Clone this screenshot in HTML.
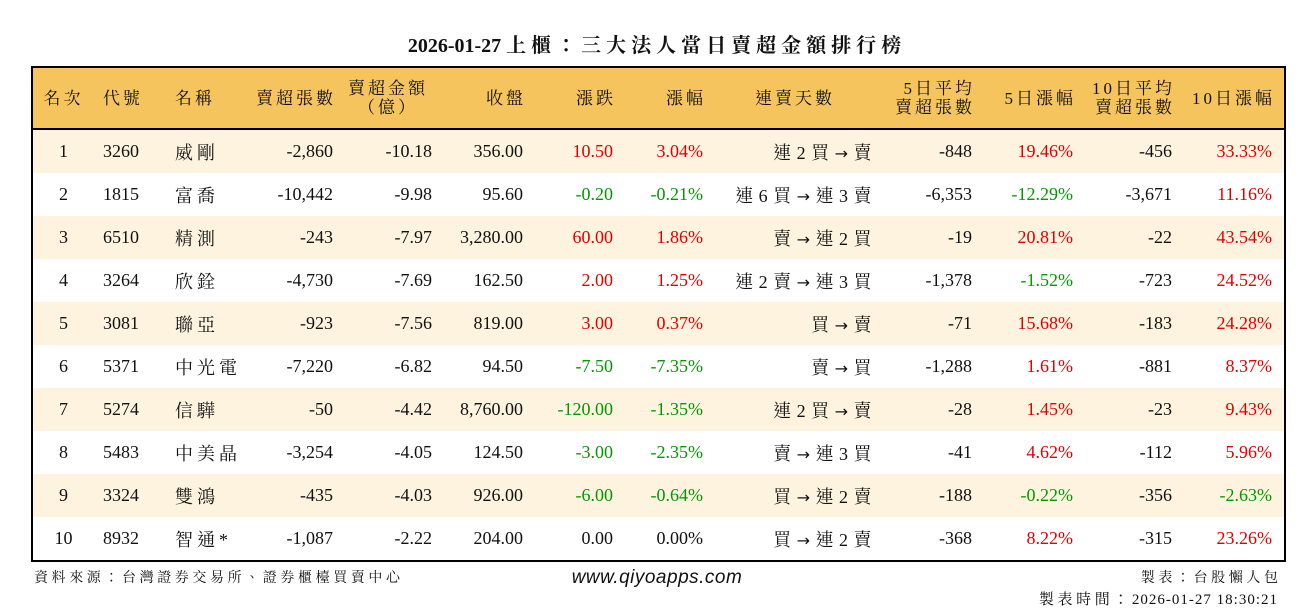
<!DOCTYPE html>
<html><head><meta charset="utf-8"><style>
body{margin:0;width:1314px;height:612px;background:#fff;position:relative;font-family:"Liberation Serif","Noto Serif CJK TC","Noto Serif CJK SC",serif;color:#111;overflow:hidden}
.t{position:absolute;top:29px;left:0;width:1314px;text-align:center;font-size:20px;font-weight:bold}
.t .k{letter-spacing:5px}
table{position:absolute;left:31px;top:66px;border-collapse:collapse;table-layout:fixed;width:1253px;border:2px solid #000;font-size:18px}
td{height:43px;padding:0;white-space:nowrap;text-align:right;padding-right:8px}
thead td{height:60px;background:#f6c45c;border-bottom:2px solid #000;line-height:19px;font-size:17px;letter-spacing:3px;padding-right:5px}
tbody tr:nth-child(odd) td{background:#fdf3de}
td.c{text-align:center;padding-right:0}
td.l{text-align:left;padding-left:9px;padding-right:0}
td.n{letter-spacing:4px}
td.d{letter-spacing:0.5px;padding-right:7px}
.a{font-family:"DejaVu Sans",sans-serif;font-size:16px}
.r{color:#e00000}.g{color:#009900}
.f{position:absolute;font-size:14px}
.f .k{letter-spacing:3.6px}
</style></head><body>
<div class="t">2026-01-27 <span class="k">上櫃：三大法人當日賣超金額排行榜</span></div>
<table>
<colgroup><col style="width:62px"><col style="width:72px"><col style="width:80px"><col style="width:95px"><col style="width:99px"><col style="width:91px"><col style="width:90px"><col style="width:90px"><col style="width:168px"><col style="width:101px"><col style="width:101px"><col style="width:99px"><col style="width:105px"></colgroup>
<thead><tr><td class="c">名次</td><td class="l">代號</td><td class="l">名稱</td><td>賣超張數</td><td style="text-align:center">賣超金額<br>（億）</td><td>收盤</td><td>漲跌</td><td>漲幅</td><td class="c">連賣天數</td><td>5日平均<br>賣超張數</td><td>5日漲幅</td><td>10日平均<br>賣超張數</td><td style="padding-right:9px">10日漲幅</td></tr></thead>
<tbody>
<tr><td class="c">1</td><td class="l">3260</td><td class="l n">威剛</td><td>-2,860</td><td>-10.18</td><td>356.00</td><td class="r">10.50</td><td class="r">3.04%</td><td class="d">連 2 買 <span class="a">→</span> 賣</td><td>-848</td><td class="r">19.46%</td><td>-456</td><td class="r" style="padding-right:12px">33.33%</td></tr>
<tr><td class="c">2</td><td class="l">1815</td><td class="l n">富喬</td><td>-10,442</td><td>-9.98</td><td>95.60</td><td class="g">-0.20</td><td class="g">-0.21%</td><td class="d">連 6 買 <span class="a">→</span> 連 3 賣</td><td>-6,353</td><td class="g">-12.29%</td><td>-3,671</td><td class="r" style="padding-right:12px">11.16%</td></tr>
<tr><td class="c">3</td><td class="l">6510</td><td class="l n">精測</td><td>-243</td><td>-7.97</td><td>3,280.00</td><td class="r">60.00</td><td class="r">1.86%</td><td class="d">賣 <span class="a">→</span> 連 2 買</td><td>-19</td><td class="r">20.81%</td><td>-22</td><td class="r" style="padding-right:12px">43.54%</td></tr>
<tr><td class="c">4</td><td class="l">3264</td><td class="l n">欣銓</td><td>-4,730</td><td>-7.69</td><td>162.50</td><td class="r">2.00</td><td class="r">1.25%</td><td class="d">連 2 賣 <span class="a">→</span> 連 3 買</td><td>-1,378</td><td class="g">-1.52%</td><td>-723</td><td class="r" style="padding-right:12px">24.52%</td></tr>
<tr><td class="c">5</td><td class="l">3081</td><td class="l n">聯亞</td><td>-923</td><td>-7.56</td><td>819.00</td><td class="r">3.00</td><td class="r">0.37%</td><td class="d">買 <span class="a">→</span> 賣</td><td>-71</td><td class="r">15.68%</td><td>-183</td><td class="r" style="padding-right:12px">24.28%</td></tr>
<tr><td class="c">6</td><td class="l">5371</td><td class="l n">中光電</td><td>-7,220</td><td>-6.82</td><td>94.50</td><td class="g">-7.50</td><td class="g">-7.35%</td><td class="d">賣 <span class="a">→</span> 買</td><td>-1,288</td><td class="r">1.61%</td><td>-881</td><td class="r" style="padding-right:12px">8.37%</td></tr>
<tr><td class="c">7</td><td class="l">5274</td><td class="l n">信驊</td><td>-50</td><td>-4.42</td><td>8,760.00</td><td class="g">-120.00</td><td class="g">-1.35%</td><td class="d">連 2 買 <span class="a">→</span> 賣</td><td>-28</td><td class="r">1.45%</td><td>-23</td><td class="r" style="padding-right:12px">9.43%</td></tr>
<tr><td class="c">8</td><td class="l">5483</td><td class="l n">中美晶</td><td>-3,254</td><td>-4.05</td><td>124.50</td><td class="g">-3.00</td><td class="g">-2.35%</td><td class="d">賣 <span class="a">→</span> 連 3 買</td><td>-41</td><td class="r">4.62%</td><td>-112</td><td class="r" style="padding-right:12px">5.96%</td></tr>
<tr><td class="c">9</td><td class="l">3324</td><td class="l n">雙鴻</td><td>-435</td><td>-4.03</td><td>926.00</td><td class="g">-6.00</td><td class="g">-0.64%</td><td class="d">買 <span class="a">→</span> 連 2 賣</td><td>-188</td><td class="g">-0.22%</td><td>-356</td><td class="g" style="padding-right:12px">-2.63%</td></tr>
<tr><td class="c">10</td><td class="l">8932</td><td class="l n">智通*</td><td>-1,087</td><td>-2.22</td><td>204.00</td><td>0.00</td><td>0.00%</td><td class="d">買 <span class="a">→</span> 連 2 賣</td><td>-368</td><td class="r">8.22%</td><td>-315</td><td class="r" style="padding-right:12px">23.26%</td></tr>
</tbody></table>
<div class="f" style="left:34px;top:567px"><span class="k">資料來源：台灣證券交易所、證券櫃檯買賣中心</span></div>
<div class="f" style="left:0;width:1314px;text-align:center;top:567px;font-family:'Liberation Sans',sans-serif;font-style:italic;font-size:19px;letter-spacing:0.5px">www.qiyoapps.com</div>
<div class="f" style="right:36px;top:567px;text-align:right"><span class="k">製表：台股懶人</span>包</div>
<div class="f" style="right:36px;top:588px;text-align:right;font-size:15px;letter-spacing:1px"><span class="k">製表時間：</span>2026-01-27 18:30:21</div>
</body></html>
